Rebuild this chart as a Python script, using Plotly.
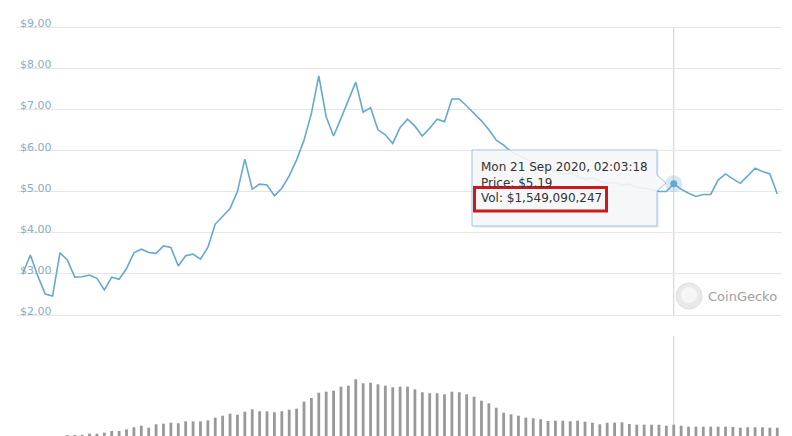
import pandas as pd
import plotly.graph_objects as go

# ---------------- data ----------------
prices = [3.02, 3.46, 2.95, 2.51, 2.46, 3.51, 3.34, 2.92, 2.93, 2.97,
          2.89, 2.61, 2.92, 2.87, 3.13, 3.51, 3.60, 3.52, 3.50, 3.68,
          3.64, 3.19, 3.44, 3.48, 3.36, 3.64, 4.21, 4.39, 4.59, 5.00,
          5.79, 5.06, 5.18, 5.16, 4.90, 5.08, 5.38, 5.77, 6.25, 6.90,
          7.81, 6.82, 6.35, 6.78, 7.23, 7.66, 6.93, 7.04, 6.50, 6.38,
          6.17, 6.56, 6.76, 6.59, 6.35, 6.54, 6.76, 6.70, 7.25, 7.25,
          7.08, 6.90, 6.72, 6.50, 6.25, 6.13, 5.97, 5.88, 5.80, 5.72,
          5.62, 5.57, 5.50, 5.42, 5.45, 5.36, 5.30, 5.33, 5.25, 5.20,
          5.22, 5.15, 5.18, 5.10, 5.08, 5.05, 5.00, 5.00, 5.19, 5.06,
          4.96, 4.88, 4.93, 4.93, 5.28, 5.43, 5.31, 5.20, 5.38, 5.57,
          5.49, 5.43, 4.94]

volumes = [310e6, 360e6, 330e6, 290e6, 350e6, 440e6, 620e6, 630e6, 640e6, 743e6,
           745e6, 833e6, 985e6, 990e6, 1137e6, 1316e6, 1459e6, 1280e6, 1585e6, 1639e6,
           1728e6, 1674e6, 1853e6, 1850e6, 1856e6, 1943e6, 2176e6, 2355e6, 2534e6, 2444e6,
           2713e6, 2928e6, 2749e6, 2745e6, 2659e6, 2752e6, 2892e6, 2982e6, 3608e6, 3940e6,
           4414e6, 4504e6, 4593e6, 4952e6, 5041e6, 5614e6, 5256e6, 5310e6, 5166e6, 5041e6,
           4898e6, 4952e6, 4955e6, 4719e6, 4450e6, 4361e6, 4365e6, 4271e6, 4504e6, 4450e6,
           4271e6, 4056e6, 3698e6, 3465e6, 3071e6, 2624e6, 2480e6, 2355e6, 2176e6, 2122e6,
           2033e6, 1880e6, 1907e6, 1905e6, 1853e6, 1907e6, 1818e6, 1728e6, 1585e6, 1728e6,
           1730e6, 1764e6, 1612e6, 1550e6, 1552e6, 1547e6, 1551e6, 1459e6, 1549090247, 1461e6,
           1370e6, 1372e6, 1368e6, 1371e6, 1369e6, 1370e6, 1343e6, 1280e6, 1316e6, 1318e6,
           1314e6, 1281e6, 1279e6]

hover_index = 88
hover_time = pd.Timestamp("2020-09-21 02:03:18")
dates = pd.date_range(end=hover_time, periods=hover_index + 1, freq="D").append(
    pd.date_range(start=hover_time + pd.Timedelta(days=1),
                  periods=len(prices) - hover_index - 1, freq="D"))

price_ticks = [2, 3, 4, 5, 6, 7, 8, 9]
tooltip_lines = ["Mon 21 Sep 2020, 02:03:18", "Price: $5.19", "Vol: $1,549,090,247"]
brand = "CoinGecko"

# ---------------- layout helpers ----------------
W, H = 792, 436
def px(x):
    return x / W
def py(y):
    return 1 - y / H

LINE = "#65a9d2"
day = pd.Timedelta(days=1)
per_dollar = (315 - 27) / 7.0   # pixels per $1 on the price axis

fig = go.Figure()
fig.add_trace(go.Bar(x=dates, y=volumes, yaxis="y2", marker_color="#999999",
                     marker_line_width=0, width=0.38 * 86400000, hoverinfo="skip"))
fig.add_trace(go.Scatter(x=dates, y=prices, mode="lines",
                         line=dict(color=LINE, width=1.6), hoverinfo="skip"))

# hover crosshair
fig.add_shape(type="line", xref="x", yref="y", x0=dates[hover_index], x1=dates[hover_index],
              y0=price_ticks[0], y1=price_ticks[-1], line=dict(color="#cfcfcf", width=1),
              layer="below")
fig.add_shape(type="line", xref="x", yref="y2 domain", x0=dates[hover_index], x1=dates[hover_index],
              y0=0, y1=1, line=dict(color="#cfcfcf", width=1), layer="below")

fig.add_trace(go.Scatter(x=[dates[hover_index]], y=[prices[hover_index]], mode="markers",
                         marker=dict(size=17, color="rgba(101,169,210,0.25)"), hoverinfo="skip"))
fig.add_trace(go.Scatter(x=[dates[hover_index]], y=[prices[hover_index]], mode="markers",
                         marker=dict(size=7, color=LINE), hoverinfo="skip"))

# tooltip callout
x0, x1, yt, yb = 472, 657, 150, 226
shadow = (f"M{px(x0+2)},{py(yt+2)} L{px(x1+2)},{py(yt+2)} L{px(x1+2)},{py(yb+2)} "
          f"L{px(x0+2)},{py(yb+2)} Z")
fig.add_shape(type="path", xref="paper", yref="paper", path=shadow,
              fillcolor="rgba(0,0,0,0.06)", line=dict(width=0))
callout = (f"M{px(x0)},{py(yt)} L{px(x1)},{py(yt)} L{px(x1)},{py(175)} L{px(666)},{py(183)} "
           f"L{px(x1)},{py(191)} L{px(x1)},{py(yb)} L{px(x0)},{py(yb)} Z")
fig.add_shape(type="path", xref="paper", yref="paper", path=callout,
              fillcolor="rgba(246,247,249,0.9)", line=dict(color="#9fc3dc", width=1))

for txt, yc in zip(tooltip_lines, [167.5, 182.5, 197.5]):
    fig.add_annotation(xref="paper", yref="paper", x=px(479), y=py(yc), text=txt,
                       showarrow=False, xanchor="left", yanchor="middle",
                       font=dict(family="DejaVu Sans", size=12, color="#333333"))

fig.add_shape(type="rect", xref="paper", yref="paper", x0=px(474.5), x1=px(606.5),
              y0=py(187.5), y1=py(211), line=dict(color="#cc1a1a", width=3))

# watermark
fig.add_shape(type="circle", xref="paper", yref="paper", x0=px(676), x1=px(702),
              y0=py(283), y1=py(309), fillcolor="#e9e9e9", line=dict(color="#dddddd", width=1))
fig.add_shape(type="circle", xref="paper", yref="paper", x0=px(681), x1=px(697),
              y0=py(287), y1=py(303), fillcolor="#f6f6f6", line=dict(width=0))
fig.add_annotation(xref="paper", yref="paper", x=px(706), y=py(296), text=brand,
                   showarrow=False, xanchor="left", yanchor="middle",
                   font=dict(family="DejaVu Sans", size=13, color="#a0a0a0"))

top_px, bottom_px = 8, 322
fig.update_layout(
    width=W, height=H, margin=dict(l=0, r=0, t=0, b=0),
    paper_bgcolor="white", plot_bgcolor="white", showlegend=False,
    xaxis=dict(domain=[px(17), px(782)],
               range=[dates[0] - 0.81 * day, dates[0] + 102.64 * day],
               showgrid=False, showticklabels=False, zeroline=False, showline=False,
               ticks=""),
    yaxis=dict(domain=[py(bottom_px), py(top_px)],
               range=[price_ticks[0] - (bottom_px - 315) / per_dollar,
                      price_ticks[-1] + (27 - top_px) / per_dollar],
               tickvals=price_ticks,
               tickformat="$.2f", ticklabelposition="inside top", ticklabelshift=4,
               gridcolor="#e6e6e6", gridwidth=1, zeroline=False, showline=False,
               tickfont=dict(family="DejaVu Sans", size=11, color="#8eacbf")),
    yaxis2=dict(domain=[0, py(336)], range=[0.537e9, 9.49e9], showgrid=False,
                showticklabels=False, zeroline=False, showline=False),
)

fig.write_html("out.html", config={"displayModeBar": False},
               post_script="document.body.style.margin='0';document.body.style.overflow='hidden';")
